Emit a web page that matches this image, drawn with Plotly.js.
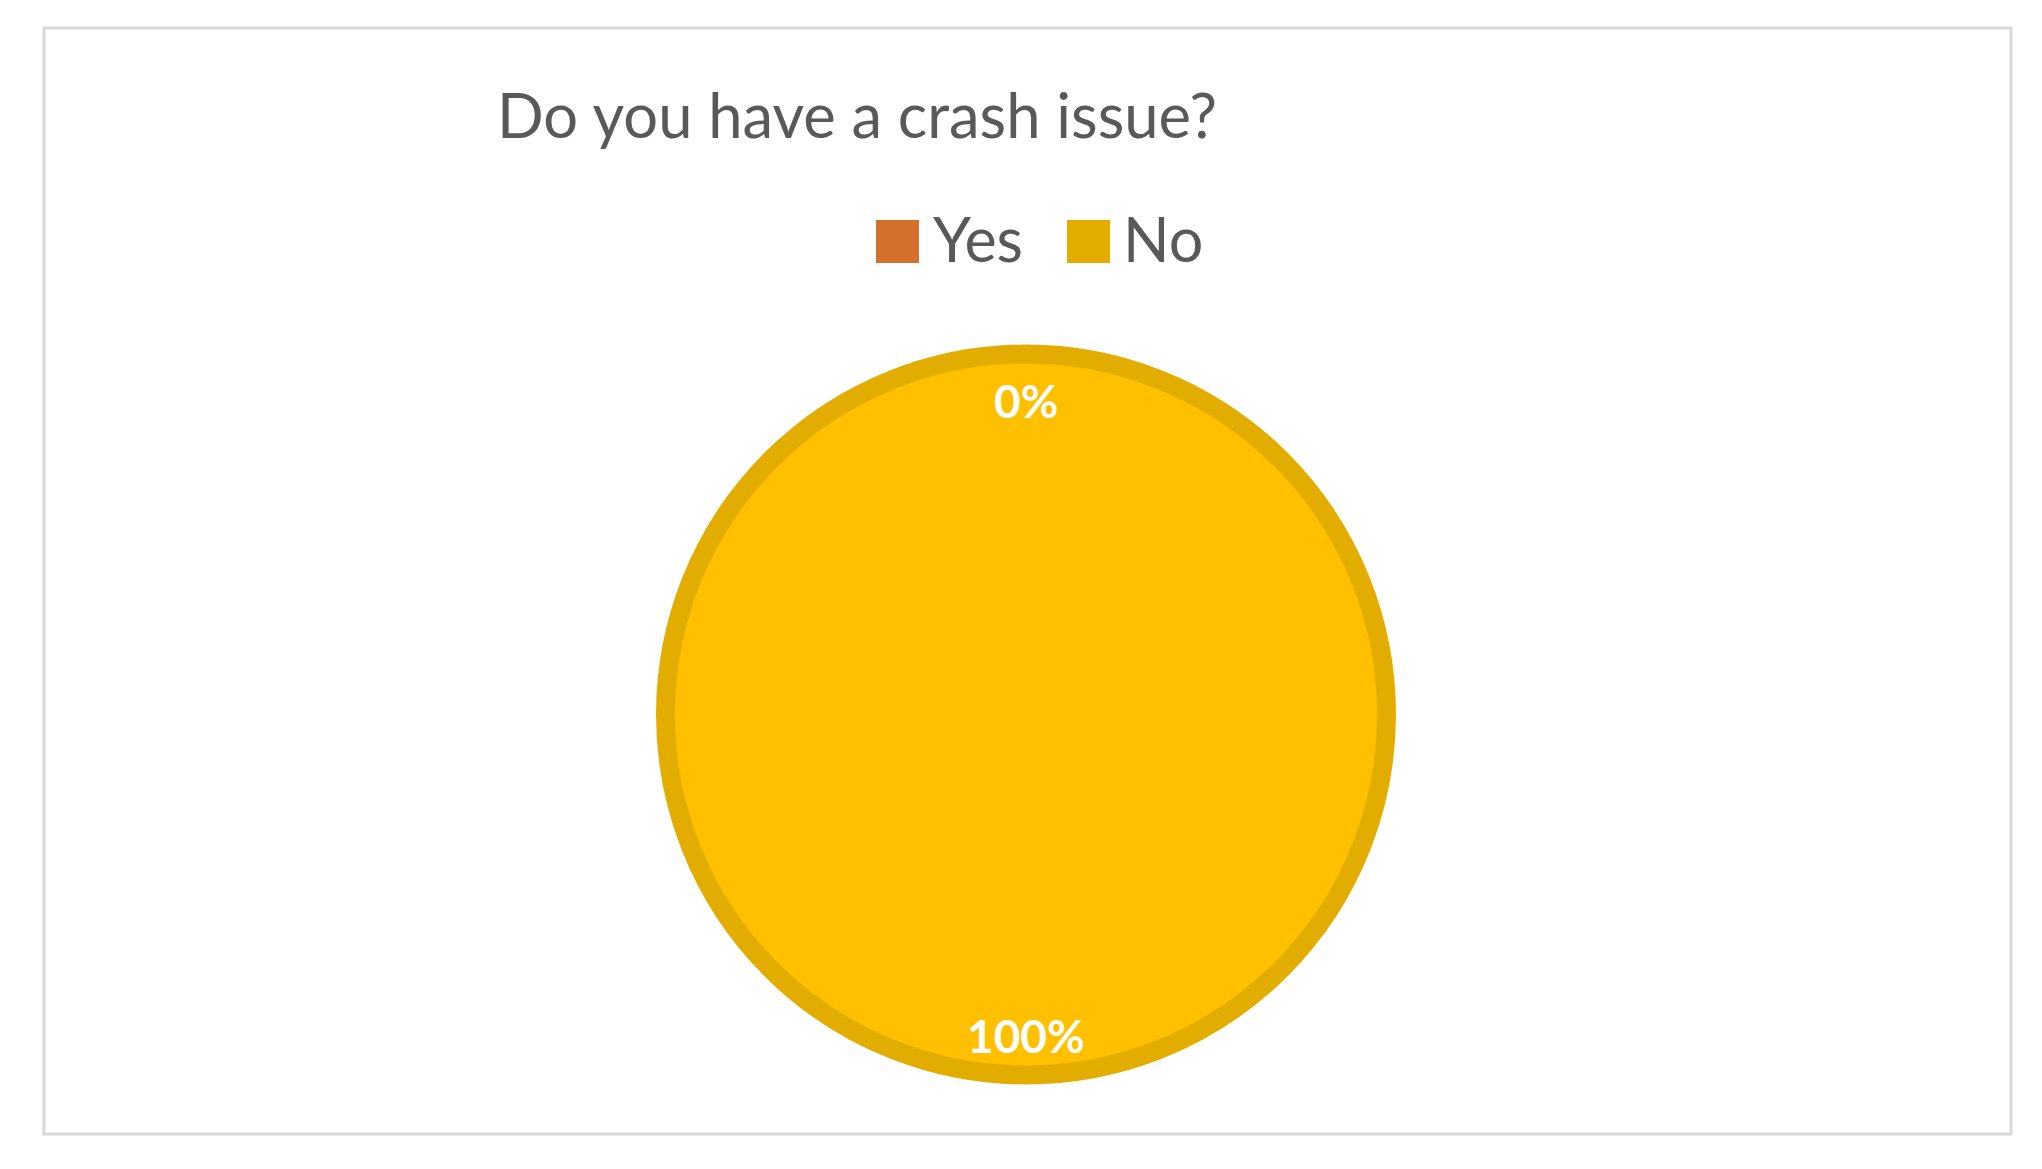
<!DOCTYPE html>
<html>
<head>
<meta charset="utf-8">
<script src="https://cdn.plot.ly/plotly-3.0.1.min.js"></script>
<style>
  html, body { margin: 0; padding: 0; background: #ffffff; }
  #chart { width: 2042px; height: 1169px; }
</style>
</head>
<body>
<div id="chart"></div>
<script>
// ---- data ----
const categories = ["Yes", "No"];
const values = [0, 100];
const sliceColors = ["#ED7D31", "#FFC000"];
const legendColors = ["#D46F2C", "#E3AD00"];
const chartTitle = "Do you have a crash issue?";

// ---- layout constants (pixels) ----
const W = 2042, H = 1169;
const cx = 1026, cy = 714.5, rOuter = 370, border = 19;
const rFill = rOuter - border / 2;
const px = x => x / W;
const py = y => 1 - y / H;

const total = values.reduce((a, b) => a + b, 0);
const pctText = values.map(v => Math.round(v / total * 100) + "%");

const trace = {
  type: "pie",
  labels: categories,
  values: values,
  sort: false,
  direction: "clockwise",
  rotation: 0,
  textinfo: "none",
  hoverinfo: "label+percent",
  showlegend: false,
  marker: {
    colors: sliceColors,
    line: { color: "#E3AD00", width: values.map(v => v > 0 ? border : 0) }
  },
  domain: {
    x: [px(cx - rFill), px(cx + rFill)],
    y: [py(cy + rFill), py(cy - rFill)]
  }
};

// data labels (Excel-like placement): first slice near top, second near bottom
const labelY = [400, 1035];
const annotations = categories.map((c, i) => ({
  text: pctText[i],
  xref: "paper", yref: "paper",
  x: px(cx), y: py(labelY[i]),
  xanchor: "center", yanchor: "middle",
  showarrow: false,
  font: { family: "Lato", size: 46, color: "#ffffff", weight: "bold" }
}));

// custom legend
const swatchX = [876, 1067];
const textX = [931, 1121];
const swTop = 220, swBot = 263;
const shapes = [{
  type: "rect", xref: "paper", yref: "paper",
  x0: px(44), x1: px(2011), y0: py(1134), y1: py(28),
  line: { color: "#D9D9D9", width: 3 }, fillcolor: "rgba(0,0,0,0)"
}];
categories.forEach((c, i) => {
  shapes.push({
    type: "rect", xref: "paper", yref: "paper",
    x0: px(swatchX[i]), x1: px(swatchX[i] + 43),
    y0: py(swBot), y1: py(swTop),
    line: { width: 0 }, fillcolor: legendColors[i]
  });
  annotations.push({
    text: c, xref: "paper", yref: "paper",
    x: px(textX[i]), y: py(238),
    xanchor: "left", yanchor: "middle", showarrow: false,
    font: { family: "Lato", size: 61, color: "#595959" }
  });
});

const layout = {
  width: W, height: H,
  margin: { l: 0, r: 0, t: 0, b: 0 },
  paper_bgcolor: "#ffffff",
  plot_bgcolor: "#ffffff",
  title: {
    text: chartTitle,
    xref: "container", yref: "container",
    x: px(497), xanchor: "left",
    y: py(116), yanchor: "middle",
    font: { family: "Lato", size: 61.5, color: "#595959" }
  },
  showlegend: false,
  shapes: shapes,
  annotations: annotations
};

Plotly.newPlot("chart", [trace], layout, { displayModeBar: false, staticPlot: true });
</script>
</body>
</html>
